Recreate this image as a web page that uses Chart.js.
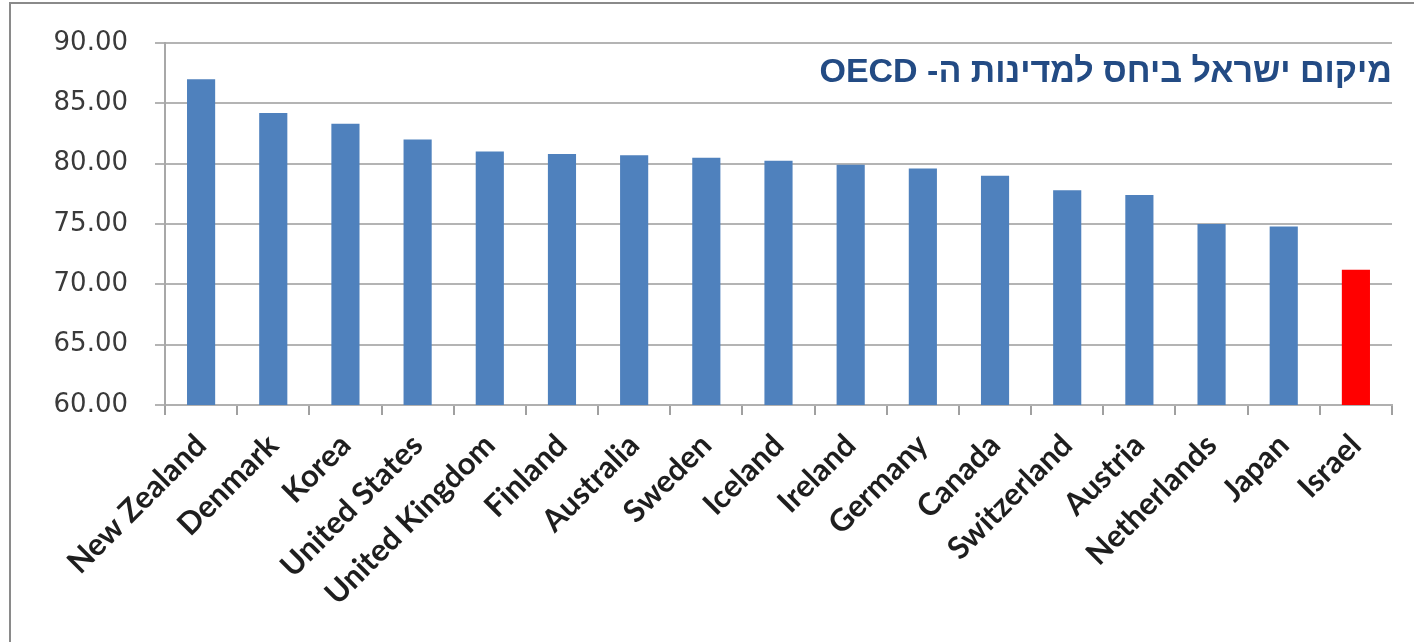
<!DOCTYPE html>
<html>
<head>
<meta charset="utf-8">
<script src="https://cdn.jsdelivr.net/npm/chart.js@4.4.1/dist/chart.umd.min.js"></script>
<style>
    html, body { margin: 0; padding: 0; background: #fff; }
    #wrap { position: relative; width: 1414px; height: 642px; overflow: hidden; }
    #frame {
        position: absolute; left: 9px; top: 2px; right: -10px; bottom: -10px;
        border-top: 2px solid #8a8a8a; border-left: 2px solid #8a8a8a;
        pointer-events: none;
    }
</style>
</head>
<body>
<div id="wrap">
    <canvas id="oecdChart" width="1414" height="642"></canvas>
    <div id="frame"></div>
</div>
<script>
const countries = ['New Zealand', 'Denmark', 'Korea', 'United States', 'United Kingdom', 'Finland',
    'Australia', 'Sweden', 'Iceland', 'Ireland', 'Germany', 'Canada', 'Switzerland', 'Austria',
    'Netherlands', 'Japan', 'Israel'];
const scores = [87.0, 84.2, 83.3, 82.0, 81.0, 80.8, 80.7, 80.5, 80.25, 79.9, 79.6, 79.0, 77.8, 77.4, 75.0, 74.8, 71.2];
const yMin = 60;
const yMax = 90;
const yStep = 5;
const chartTitle = 'מיקום ישראל ביחס למדינות ה- OECD';

const barColors = countries.map(c => c === 'Israel' ? '#ff0000' : '#4f81bd');

// title sits inside the plot area, right aligned
const titlePlugin = {
    id: 'rtlTitle',
    afterDraw(chart) {
        const { ctx, chartArea } = chart;
        ctx.save();
        ctx.font = 'bold 34px "Liberation Sans", Arial, sans-serif';
        ctx.fillStyle = '#234b84';
        ctx.direction = 'rtl';
        ctx.textAlign = 'right';
        ctx.textBaseline = 'middle';
        ctx.fillText(chartTitle, chartArea.right, 73);
        ctx.restore();
    }
};

new Chart(document.getElementById('oecdChart'), {
    type: 'bar',
    data: {
        labels: countries,
        datasets: [{
            data: scores,
            backgroundColor: barColors,
            categoryPercentage: 1,
            barPercentage: 0.39
        }]
    },
    options: {
        responsive: false,
        animation: false,
        layout: { padding: { left: 10, top: 43, right: 22, bottom: 0 } },
        plugins: {
            legend: { display: false },
            tooltip: { enabled: false }
        },
        scales: {
            x: {
                afterFit(scale) { scale.height = 237; },
                grid: {
                    display: true,
                    drawOnChartArea: false,
                    drawTicks: true,
                    tickLength: 10,
                    color: '#a0a0a0',
                    lineWidth: 2
                },
                border: { display: true, color: '#b0b0b0', width: 2 },
                ticks: {
                    autoSkip: false,
                    maxRotation: 45,
                    minRotation: 45,
                    padding: 12,
                    color: '#1e1e1e',
                    font: { family: 'Lato', weight: 'bold', size: 31 }
                }
            },
            y: {
                min: yMin,
                max: yMax,
                afterFit(scale) { scale.width = 155; },
                grid: {
                    color: '#b4b4b4',
                    lineWidth: 2,
                    tickLength: 10
                },
                border: { display: true, color: '#a8a8a8', width: 2 },
                ticks: {
                    stepSize: yStep,
                    padding: 27,
                    color: '#3a3a3a',
                    font: { family: 'DejaVu Sans', size: 26 },
                    callback: v => v.toFixed(2)
                }
            }
        }
    },
    plugins: [titlePlugin]
});
</script>
</body>
</html>
